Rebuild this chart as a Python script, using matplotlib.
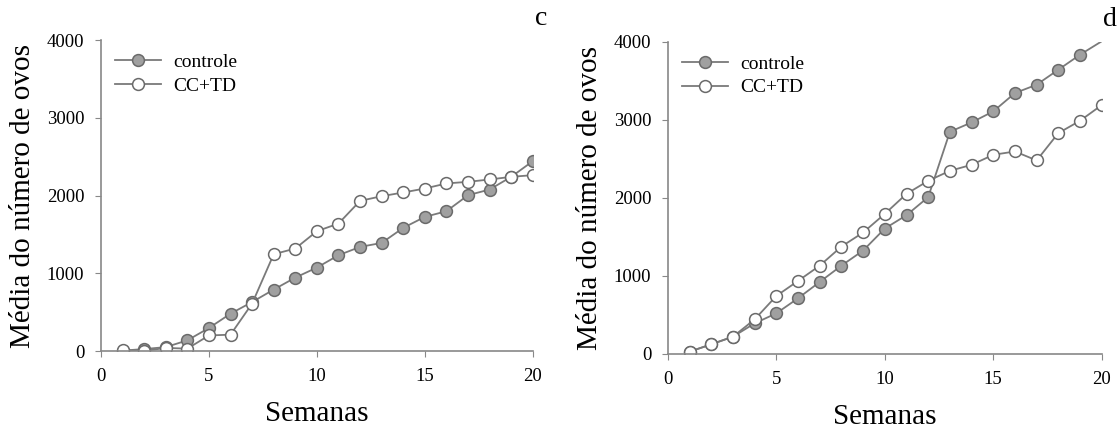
import matplotlib.pyplot as plt

plt.rcParams['font.family'] = ['Liberation Serif', 'DejaVu Serif']

semanas = list(range(1, 21))

# painel c
c_controle = [5, 25, 50, 137, 296, 480, 630, 790, 944, 1073,
              1232, 1339, 1390, 1584, 1725, 1798, 2004, 2077, 2240, 2442]
c_cctd = [10, 0, 40, 30, 200, 210, 610, 1245, 1318, 1541,
          1639, 1931, 1991, 2039, 2090, 2155, 2176, 2206, 2240, 2262]

# painel d
d_controle = [30, 124, 222, 393, 521, 714, 923, 1132, 1325, 1607,
              1778, 2009, 2846, 2966, 3107, 3342, 3449, 3641, 3833, 4005]
d_cctd = [30, 124, 222, 444, 744, 936, 1132, 1376, 1556, 1795,
          2051, 2218, 2346, 2423, 2551, 2594, 2479, 2829, 2987, 3188]

xticks = [0, 5, 10, 15, 20]
yticks = [0, 1000, 2000, 3000, 4000]

fig = plt.figure(figsize=(11.17, 4.32), dpi=100)
ax1 = fig.add_axes([0.0904, 0.1875, 0.3866, 0.7199])
ax2 = fig.add_axes([0.598, 0.1806, 0.3883, 0.7229])

linecol = '#7a7a7a'
for ax, ctrl, cctd, letra, mev in [(ax1, c_controle, c_cctd, 'c', None),
                                   (ax2, d_controle, d_cctd, 'd', list(range(19)))]:
    ax.plot(semanas, ctrl, marker='o', color=linecol, lw=1.3, ms=8.5,
            mfc='#a0a0a0', mec='#6a6a6a', mew=1.1, label='controle', markevery=mev)
    ax.plot(semanas, cctd, marker='o', color=linecol, lw=1.3, ms=8.5,
            mfc='white', mec='#6a6a6a', mew=1.1, label='CC+TD')
    ax.set_xlim(0, 20)
    ax.set_ylim(0, 4000)
    ax.set_xticks(xticks)
    ax.set_yticks(yticks)
    for s in ['top', 'right']:
        ax.spines[s].set_visible(False)
    for s in ['left', 'bottom']:
        ax.spines[s].set_color('#888888')
        ax.spines[s].set_linewidth(1.2)
    ax.tick_params(direction='out', length=4, color='#888888', labelsize=13.5, pad=8)
    ax.set_xlabel('Semanas', fontsize=21, labelpad=12)
    ax.set_ylabel('Média do número de ovos', fontsize=21, labelpad=8)
    ax.legend(loc='upper left', frameon=False, fontsize=14, handlelength=2.4,
              handletextpad=0.6, labelspacing=0.3, borderaxespad=0.3)
    ax.text(1.02, 1.03, letra, transform=ax.transAxes, fontsize=20,
            ha='center', va='bottom')

plt.savefig('out.png')
